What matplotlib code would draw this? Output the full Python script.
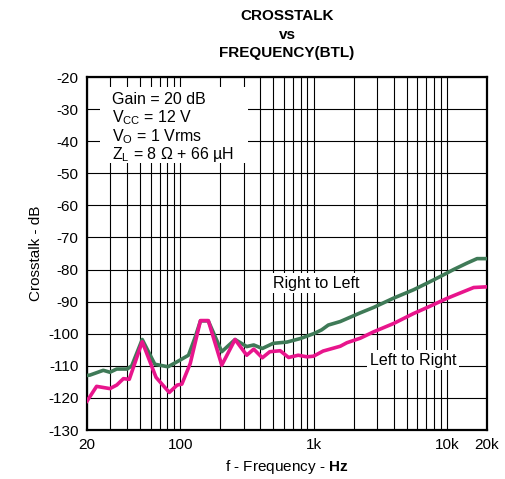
import matplotlib
matplotlib.use("Agg")
import matplotlib.pyplot as plt
from matplotlib.patches import Rectangle

plt.rcParams["font.family"] = ["Liberation Sans", "DejaVu Sans"]
plt.rcParams["mathtext.fontset"] = "custom"
plt.rcParams["mathtext.rm"] = "Liberation Sans"
plt.rcParams["mathtext.bf"] = "Liberation Sans:bold"

# ── data ────────────────────────────────────────────────────────────────
r2l_freq = [20, 21, 26.5, 29.7, 33.4, 40, 43.3, 51.9, 64.5, 81, 99.9, 115.4,
            129.7, 141.9, 162.4, 205, 257.9, 315.5, 356, 413, 498, 632, 796,
            1000, 1150, 1290, 1587, 2240, 2825, 3990, 5630, 7060, 8900, 11230,
            14150, 16850, 20000]
r2l_db = [-113, -112.9, -111.4, -112, -111, -111, -110, -101.8, -109.5, -110.3,
          -108.2, -106.7, -101, -96, -96, -105.6, -101.8, -104, -103.5, -104.6,
          -103, -102.6, -101.5, -100, -98.8, -97.3, -96.2, -93.5, -91.8, -88.9,
          -86.3, -84.3, -82.2, -80, -78, -76.6, -76.6]

l2r_freq = [20, 23.6, 29.7, 33.4, 37.5, 41.5, 51.9, 65.9, 82.8, 94.9, 102.9,
            118.9, 141.9, 162.4, 205, 257.9, 315.5, 356, 413, 470, 562, 650,
            768, 893, 1000, 1180, 1587, 1780, 2240, 2825, 3990, 5630, 7500,
            10000, 12600, 15900, 19500, 20000]
l2r_db = [-121, -116.4, -117.1, -116, -114, -114.2, -102.5, -113.6, -118.3,
          -116, -115.7, -109.3, -95.9, -95.9, -109.8, -101.8, -106.7, -104.8,
          -107.5, -105.6, -105.3, -107.4, -106.7, -107.2, -107, -105.4, -103.9,
          -102.8, -101.4, -99.4, -96.8, -93.7, -91.4, -89, -87.3, -85.6, -85.4,
          -85.4]

x_ticks = [20, 100, 1000, 10000, 20000]
x_labels = ["20", "100", "1k", "10k", "20k"]
y_ticks = list(range(-130, -19, 10))

# ── figure ──────────────────────────────────────────────────────────────
fig = plt.figure(figsize=(5.05, 4.79), dpi=100)
ax = fig.add_axes([87 / 505, 49 / 479, 400 / 505, 353 / 479])

ax.set_xscale("log")
ax.set_xlim(20, 20000)
ax.set_ylim(-130, -20)

ax.set_xticks(x_ticks)
ax.set_xticklabels(x_labels)
ax.set_yticks(y_ticks)
ax.set_yticklabels([str(v) for v in y_ticks])
ax.tick_params(axis="both", which="both", length=0, labelsize=11, pad=6)
ax.grid(True, which="both", axis="x", color="black", lw=0.8)
ax.grid(True, which="major", axis="y", color="black", lw=0.8)
ax.set_axisbelow(True)
for sp in ax.spines.values():
    sp.set_linewidth(1.6)

ax.plot(r2l_freq, r2l_db, color="#3f7a57", lw=2.6, zorder=3)
ax.plot(l2r_freq, l2r_db, color="#e8158c", lw=2.6, zorder=4)

# conditions box (hides grid behind it)
ax.add_patch(Rectangle((25, -46.8), 297, 23.7, facecolor="white",
                       edgecolor="none", zorder=1))
cond = ["Gain = 20 dB",
        r"V$_{\mathregular{CC}}$ = 12 V",
        r"V$_{\mathregular{O}}$ = 1 Vrms",
        r"Z$_{\mathregular{L}}$ = 8 Ω + 66 µH"]
for i, s in enumerate(cond):
    ax.text(0.0625, 0.936 - i * 0.052, s, transform=ax.transAxes,
            fontsize=11.5, va="center", ha="left", zorder=5)

ax.text(1040, -84.2, "Right to Left", fontsize=11.5, ha="center", va="center",
        zorder=5, bbox=dict(facecolor="white", edgecolor="none", pad=2))
ax.text(5560, -108.2, "Left to Right", fontsize=11.5, ha="center", va="center",
        zorder=5, bbox=dict(facecolor="white", edgecolor="none", pad=2))

ax.set_xlabel(r"f - Frequency - $\mathbf{Hz}$", fontsize=11, labelpad=4)
ax.set_ylabel("Crosstalk - dB", fontsize=11, labelpad=4)

fig.text(287 / 505, 1 - 16 / 479, "CROSSTALK", ha="center", va="center",
         fontsize=11, fontweight="bold")
fig.text(287 / 505, 1 - 35 / 479, "vs", ha="center", va="center",
         fontsize=11, fontweight="bold")
fig.text(287 / 505, 1 - 53 / 479, "FREQUENCY(BTL)", ha="center", va="center",
         fontsize=11, fontweight="bold")

fig.savefig("out.png", dpi=100)
